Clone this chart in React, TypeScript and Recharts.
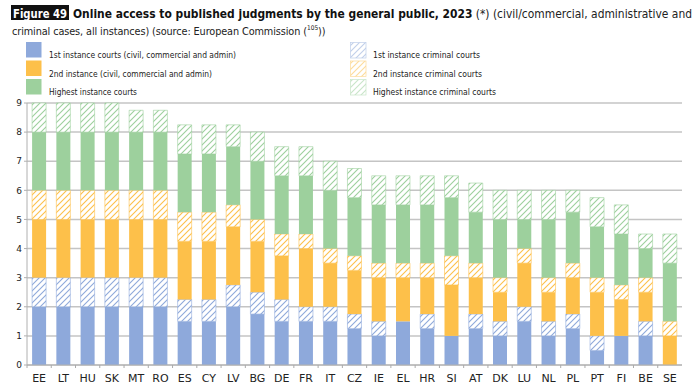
import React from "react";
import { BarChart, Bar, XAxis, YAxis, CartesianGrid } from "recharts";

const countries = ["EE", "LT", "HU", "SK", "MT", "RO", "ES", "CY", "LV", "BG", "DE", "FR", "IT", "CZ", "IE", "EL", "HR", "SI", "AT", "DK", "LU", "NL", "PL", "PT", "FI", "BE", "SE"];
const firstCivil = [2, 2, 2, 2, 2, 2, 1.5, 1.5, 2, 1.75, 1.5, 1.5, 1.5, 1.25, 1, 1.5, 1.25, 1, 1.25, 1, 1.5, 1, 1.25, 0.5, 1, 1, 0];
const firstCrim = [1, 1, 1, 1, 1, 1, 0.75, 0.75, 0.75, 0.75, 0.75, 0.5, 0.5, 0.5, 0.5, 0, 0.5, 0, 0.5, 0.5, 0.5, 0.5, 0.5, 0.5, 0, 0.5, 0];
const secondCivil = [2, 2, 2, 2, 2, 2, 2, 2, 2, 1.75, 1.5, 2, 1.5, 1.5, 1.5, 1.5, 1.25, 1.75, 1.25, 1, 1.5, 1, 1.25, 1.5, 1.25, 1, 1];
const secondCrim = [1, 1, 1, 1, 1, 1, 1, 1, 0.75, 0.75, 0.75, 0.5, 0.5, 0.5, 0.5, 0.5, 0.5, 1, 0.5, 0.5, 0.5, 0.5, 0.5, 0.5, 0.5, 0.5, 0.5];
const highest = [2, 2, 2, 2, 2, 2, 2, 2, 2, 2, 2, 2, 2, 2, 2, 2, 2, 2, 1.75, 2, 1, 2, 1.75, 1.75, 1.75, 1, 2];
const highestCrim = [1, 1, 1, 1, 0.75, 0.75, 1, 1, 0.75, 1, 1, 1, 1, 1, 1, 1, 1, 0.75, 1, 1, 1, 1, 0.75, 1, 1, 0.5, 1];
const yTicks = [0, 1, 2, 3, 4, 5, 6, 7, 8, 9];

const BLUE = "#8ea9db";
const ORANGE = "#fdc04a";
const GREEN = "#9dd09d";

const data = countries.map((c, i) => ({
  country: c,
  firstCivil: firstCivil[i],
  firstCrim: firstCrim[i],
  secondCivil: secondCivil[i],
  secondCrim: secondCrim[i],
  highest: highest[i],
  highestCrim: highestCrim[i],
}));

// legend labels, with the width each takes in the figure
const legendLeft = [
  { label: "1st instance courts (civil, commercial and admin)", color: BLUE, w: 187 },
  { label: "2nd instance (civil, commercial and admin)", color: ORANGE, w: 163 },
  { label: "Highest instance courts", color: GREEN, w: 88 },
];
const legendRight = [
  { label: "1st instance criminal courts", color: BLUE, hatch: "lgBlue", w: 107 },
  { label: "2nd instance criminal courts", color: ORANGE, hatch: "lgOrange", w: 109 },
  { label: "Highest instance criminal courts", color: GREEN, hatch: "lgGreen", w: 123 },
];
const legendRows = [42, 60.5, 79];

const font = "'DejaVu Sans', sans-serif";
const titleFont = "'DejaVu Sans Condensed', 'DejaVu Sans', sans-serif";

function Hatch({ id, color }: { id: string; color: string }) {
  return (
    <pattern id={id} patternUnits="userSpaceOnUse" width={6} height={6}>
      <rect width={6} height={6} fill="#fff" />
      <path d="M-1,1 l2,-2 M0,6 l6,-6 M5,7 l2,-2" stroke={color} strokeWidth={1.1} />
    </pattern>
  );
}

const HALF = 655 / 27 / 2;

function CountryTick(props: any) {
  const { x, y, payload } = props;
  return (
    <g>
      <line x1={x - HALF} x2={x - HALF} y1={y - 8} y2={y - 5} stroke="#aaa" />
      <text x={x} y={y + 9} textAnchor="middle" fontSize={11} fontFamily={font} fill="#222">
        {payload.value}
      </text>
    </g>
  );
}

function Header() {
  return (
    <svg width={700} height={98} style={{ position: "absolute", left: 0, top: 0 }}>
      <defs>
        <Hatch id="lgBlue" color={BLUE} />
        <Hatch id="lgOrange" color={ORANGE} />
        <Hatch id="lgGreen" color={GREEN} />
      </defs>
      <rect x={11} y={5} width={58} height={15} fill="#111" />
      <text x={13} y={17.5} fontFamily={titleFont} fontWeight="bold" fontSize={12.5} fill="#fff"
        textLength={54} lengthAdjust="spacingAndGlyphs">Figure 49</text>
      <text x={73} y={17.5} fontFamily={titleFont} fontSize={11.6} fill="#222"
        textLength={619} lengthAdjust="spacingAndGlyphs">
        <tspan fontWeight="bold" fill="#111">Online access to published judgments by the general public, 2023</tspan>
        <tspan> (*) (civil/commercial, administrative and</tspan>
      </text>
      <text x={12} y={35} fontFamily={titleFont} fontSize={10.8} letterSpacing={-0.1} fill="#222">
        <tspan>criminal cases, all instances) (source: European Commission (</tspan>
        <tspan dy={-5} fontSize={6.5} letterSpacing={0}>105</tspan>
        <tspan dy={5}>))</tspan>
      </text>

      {legendLeft.map((l, i) => (
        <g key={l.label}>
          <rect x={26} y={legendRows[i]} width={15.5} height={15.5} fill={l.color} />
          <text x={49} y={legendRows[i] + 16} fontFamily={font} fontSize={8} fill="#222"
            textLength={l.w} lengthAdjust="spacingAndGlyphs">{l.label}</text>
        </g>
      ))}
      {legendRight.map((l, i) => (
        <g key={l.label}>
          <rect x={350.5} y={legendRows[i] + 0.5} width={15.5} height={15.5} opacity={0.55}
            fill={`url(#${l.hatch})`} stroke={l.color} strokeWidth={0.7} />
          <text x={373} y={legendRows[i] + 16} fontFamily={font} fontSize={8} fill="#222"
            textLength={l.w} lengthAdjust="spacingAndGlyphs">{l.label}</text>
        </g>
      ))}
    </svg>
  );
}

export default function App() {
  return (
    <div style={{ position: "absolute", left: 0, top: 0, width: 700, height: 390, background: "#fff", overflow: "hidden" }}>
      <Header />
      <div style={{ position: "absolute", left: 0, top: 95 }}>
        <BarChart width={700} height={295} data={data} barCategoryGap="21%"
          margin={{ top: 8, right: 18, bottom: 5, left: 0 }}>
          <defs>
            <Hatch id="hBlue" color={BLUE} />
            <Hatch id="hOrange" color={ORANGE} />
            <Hatch id="hGreen" color={GREEN} />
          </defs>
          <CartesianGrid vertical={false} stroke="#c4c4c4" strokeWidth={1.5} />
          <XAxis dataKey="country" interval={0} height={20} axisLine={{ stroke: "#b0b0b0" }}
            tickLine={false} tick={<CountryTick />} />
          <YAxis domain={[0, 9]} ticks={yTicks} width={27} axisLine={{ stroke: "#b0b0b0" }}
            tickLine={{ stroke: "#b0b0b0" }} tickSize={3}
            tick={{ fontSize: 9, fill: "#222", fontFamily: font }} />
          <Bar dataKey="firstCivil" stackId="a" fill={BLUE} isAnimationActive={false} />
          <Bar dataKey="firstCrim" stackId="a" fill="url(#hBlue)" stroke={BLUE} strokeWidth={0.6} isAnimationActive={false} />
          <Bar dataKey="secondCivil" stackId="a" fill={ORANGE} isAnimationActive={false} />
          <Bar dataKey="secondCrim" stackId="a" fill="url(#hOrange)" stroke={ORANGE} strokeWidth={0.6} isAnimationActive={false} />
          <Bar dataKey="highest" stackId="a" fill={GREEN} isAnimationActive={false} />
          <Bar dataKey="highestCrim" stackId="a" fill="url(#hGreen)" stroke={GREEN} strokeWidth={0.6} isAnimationActive={false} />
        </BarChart>
      </div>
    </div>
  );
}
